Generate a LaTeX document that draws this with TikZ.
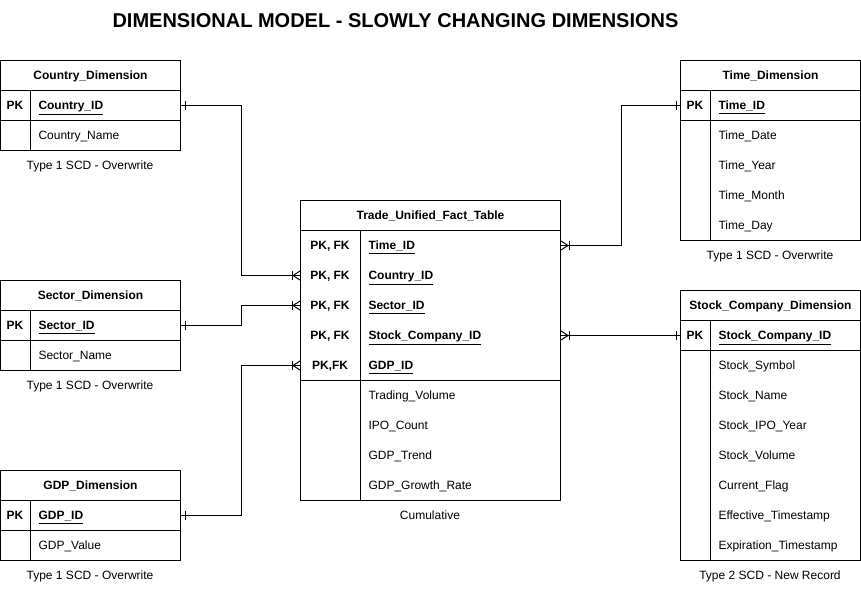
\documentclass[tikz,border=0pt]{standalone}
\usepackage{fontspec}
\setmainfont{Liberation Sans}
\begin{document}
\begin{tikzpicture}[x=1pt,y=-1pt,line width=1pt,
  every node/.style={font=\fontsize{12}{14}\selectfont},
  cell/.style={draw,line width=1pt,anchor=north west,inner sep=0pt,minimum width=#1,minimum height=30pt},
  cell/.default=180pt,
  slot/.style={anchor=north west,inner sep=0pt,minimum width=#1,minimum height=30pt},
  slot/.default=180pt,
  hdr/.style={font=\fontsize{12}{14}\selectfont\bfseries,anchor=base,inner sep=0pt,yshift=-4.4pt},
  keylbl/.style={font=\fontsize{12}{14}\selectfont\bfseries,anchor=base,inner sep=0pt,yshift=-4.4pt},
  keyname/.style={font=\fontsize{12}{14}\selectfont\bfseries,anchor=base west,inner sep=0pt,yshift=-4.4pt},
  attr/.style={anchor=base west,inner sep=0pt,yshift=-4.4pt},
  caption/.style={font=\fontsize{12}{14}\selectfont,anchor=base,inner sep=0pt,yshift=-4.4pt},
  conn/.style={line width=1pt}
]
\useasboundingbox (0,0) rectangle (861,590);

% Title
\node[font=\fontsize{20}{22}\selectfont\bfseries,anchor=base,inner sep=0pt] (title) at (395.5,27) {DIMENSIONAL MODEL - SLOWLY CHANGING DIMENSIONS};

% ---------- Country_Dimension ----------
\node[cell] (ch) at (0,60) {};
\node[hdr] (cht) at (ch.center) {Country\_Dimension};
\node[cell] (cpk) at (0,90) {};
\node[cell,minimum height=30pt] (cb) at (0,120) {};
\draw ([xshift=30]cpk.north west) -- ([xshift=30]cb.south west);
\node[keylbl] (cpkl) at ([xshift=15]cpk.west) {PK};
\node[keyname] (cpkn) at ([xshift=38]cpk.west) {\underline{Country\_ID}};
\node[attr] (ca1) at ([xshift=38]cb.west) {Country\_Name};
\node[caption] (ccap) at (90,165) {Type 1 SCD - Overwrite};

% ---------- Sector_Dimension ----------
\node[cell] (sh) at (0,280) {};
\node[hdr] (sht) at (sh.center) {Sector\_Dimension};
\node[cell] (spk) at (0,310) {};
\node[cell] (sb) at (0,340) {};
\draw ([xshift=30]spk.north west) -- ([xshift=30]sb.south west);
\node[keylbl] (spkl) at ([xshift=15]spk.west) {PK};
\node[keyname] (spkn) at ([xshift=38]spk.west) {\underline{Sector\_ID}};
\node[attr] (sa1) at ([xshift=38]sb.west) {Sector\_Name};
\node[caption] (scap) at (90,385) {Type 1 SCD - Overwrite};

% ---------- GDP_Dimension ----------
\node[cell] (gh) at (0,470) {};
\node[hdr] (ght) at (gh.center) {GDP\_Dimension};
\node[cell] (gpk) at (0,500) {};
\node[cell] (gb) at (0,530) {};
\draw ([xshift=30]gpk.north west) -- ([xshift=30]gb.south west);
\node[keylbl] (gpkl) at ([xshift=15]gpk.west) {PK};
\node[keyname] (gpkn) at ([xshift=38]gpk.west) {\underline{GDP\_ID}};
\node[attr] (ga1) at ([xshift=38]gb.west) {GDP\_Value};
\node[caption] (gcap) at (90,575) {Type 1 SCD - Overwrite};

% ---------- Time_Dimension ----------
\node[cell] (th) at (680,60) {};
\node[hdr] (tht) at (th.center) {Time\_Dimension};
\node[cell] (tpk) at (680,90) {};
\node[cell,minimum height=120pt] (tb) at (680,120) {};
\draw ([xshift=30]tpk.north west) -- ([xshift=30]tb.south west);
\node[keylbl] (tpkl) at ([xshift=15]tpk.west) {PK};
\node[keyname] (tpkn) at ([xshift=38]tpk.west) {\underline{Time\_ID}};
\node[attr] (ta1) at (718,135) {Time\_Date};
\node[attr] (ta2) at (718,165) {Time\_Year};
\node[attr] (ta3) at (718,195) {Time\_Month};
\node[attr] (ta4) at (718,225) {Time\_Day};
\node[caption] (tcap) at (770,255) {Type 1 SCD - Overwrite};

% ---------- Stock_Company_Dimension ----------
\node[cell] (kh) at (680,290) {};
\node[hdr] (kht) at (kh.center) {Stock\_Company\_Dimension};
\node[cell] (kpk) at (680,320) {};
\node[cell,minimum height=210pt] (kb) at (680,350) {};
\draw ([xshift=30]kpk.north west) -- ([xshift=30]kb.south west);
\node[keylbl] (kpkl) at ([xshift=15]kpk.west) {PK};
\node[keyname] (kpkn) at ([xshift=38]kpk.west) {\underline{Stock\_Company\_ID}};
\node[attr] (ka1) at (718,365) {Stock\_Symbol};
\node[attr] (ka2) at (718,395) {Stock\_Name};
\node[attr] (ka3) at (718,425) {Stock\_IPO\_Year};
\node[attr] (ka4) at (718,455) {Stock\_Volume};
\node[attr] (ka5) at (718,485) {Current\_Flag};
\node[attr] (ka6) at (718,515) {Effective\_Timestamp};
\node[attr] (ka7) at (718,545) {Expiration\_Timestamp};
\node[caption] (kcap) at (770,575) {Type 2 SCD - New Record};

% ---------- Trade_Unified_Fact_Table ----------
\node[cell=260pt] (fh) at (300,200) {};
\node[hdr] (fht) at (fh.center) {Trade\_Unified\_Fact\_Table};
\node[cell=260pt,minimum height=150pt] (fkb) at (300,230) {};
\node[cell=260pt,minimum height=120pt] (fab) at (300,380) {};
\draw ([xshift=60]fkb.north west) -- ([xshift=60]fab.south west);
\node[slot=260pt] (fk1) at (300,230) {};
\node[slot=260pt] (fk2) at (300,260) {};
\node[slot=260pt] (fk3) at (300,290) {};
\node[slot=260pt] (fk4) at (300,320) {};
\node[slot=260pt] (fk5) at (300,350) {};
\node[keylbl] (fk1l) at ([xshift=30]fk1.west) {PK, FK};
\node[keylbl] (fk2l) at ([xshift=30]fk2.west) {PK, FK};
\node[keylbl] (fk3l) at ([xshift=30]fk3.west) {PK, FK};
\node[keylbl] (fk4l) at ([xshift=30]fk4.west) {PK, FK};
\node[keylbl] (fk5l) at ([xshift=30]fk5.west) {PK,FK};
\node[keyname] (fk1n) at ([xshift=68]fk1.west) {\underline{Time\_ID}};
\node[keyname] (fk2n) at ([xshift=68]fk2.west) {\underline{Country\_ID}};
\node[keyname] (fk3n) at ([xshift=68]fk3.west) {\underline{Sector\_ID}};
\node[keyname] (fk4n) at ([xshift=68]fk4.west) {\underline{Stock\_Company\_ID}};
\node[keyname] (fk5n) at ([xshift=68]fk5.west) {\underline{GDP\_ID}};
\node[attr] (fa1) at (368,395) {Trading\_Volume};
\node[attr] (fa2) at (368,425) {IPO\_Count};
\node[attr] (fa3) at (368,455) {GDP\_Trend};
\node[attr] (fa4) at (368,485) {GDP\_Growth\_Rate};
\node[caption] (fcap) at (430,515) {Cumulative};

% ---------- Connectors ----------
\draw[conn] (cpk.east) -- ++(60,0) |- (fk2.west);
\draw[conn] (spk.east) -- ++(60,0) |- (fk3.west);
\draw[conn] (gpk.east) -- ++(60,0) |- (fk5.west);
\draw[conn] (fk1.east) -- ++(60,0) |- (tpk.west);
\draw[conn] (fk4.east) -- (kpk.west);

% one-bars at the dimension ends
\foreach \n in {cpk,spk,gpk}{
  \draw[conn] ([xshift=4pt,yshift=-4.5pt]\n.east) -- ([xshift=4pt,yshift=4.5pt]\n.east);
}
\foreach \n in {tpk,kpk}{
  \draw[conn] ([xshift=-4pt,yshift=-4.5pt]\n.west) -- ([xshift=-4pt,yshift=4.5pt]\n.west);
}
% crow's feet (one-to-many) at the fact table, left side
\foreach \n in {fk2,fk3,fk5}{
  \draw[conn] ([xshift=-8pt,yshift=-4.5pt]\n.west) -- ([xshift=-8pt,yshift=4.5pt]\n.west);
  \draw[conn] ([xshift=-7pt]\n.west) -- ([yshift=-4.5pt]\n.west);
  \draw[conn] ([xshift=-7pt]\n.west) -- ([yshift=4.5pt]\n.west);
}
% crow's feet at the fact table, right side
\foreach \n in {fk1,fk4}{
  \draw[conn] ([xshift=8pt,yshift=-4.5pt]\n.east) -- ([xshift=8pt,yshift=4.5pt]\n.east);
  \draw[conn] ([xshift=7pt]\n.east) -- ([yshift=-4.5pt]\n.east);
  \draw[conn] ([xshift=7pt]\n.east) -- ([yshift=4.5pt]\n.east);
}
\end{tikzpicture}
\end{document}
